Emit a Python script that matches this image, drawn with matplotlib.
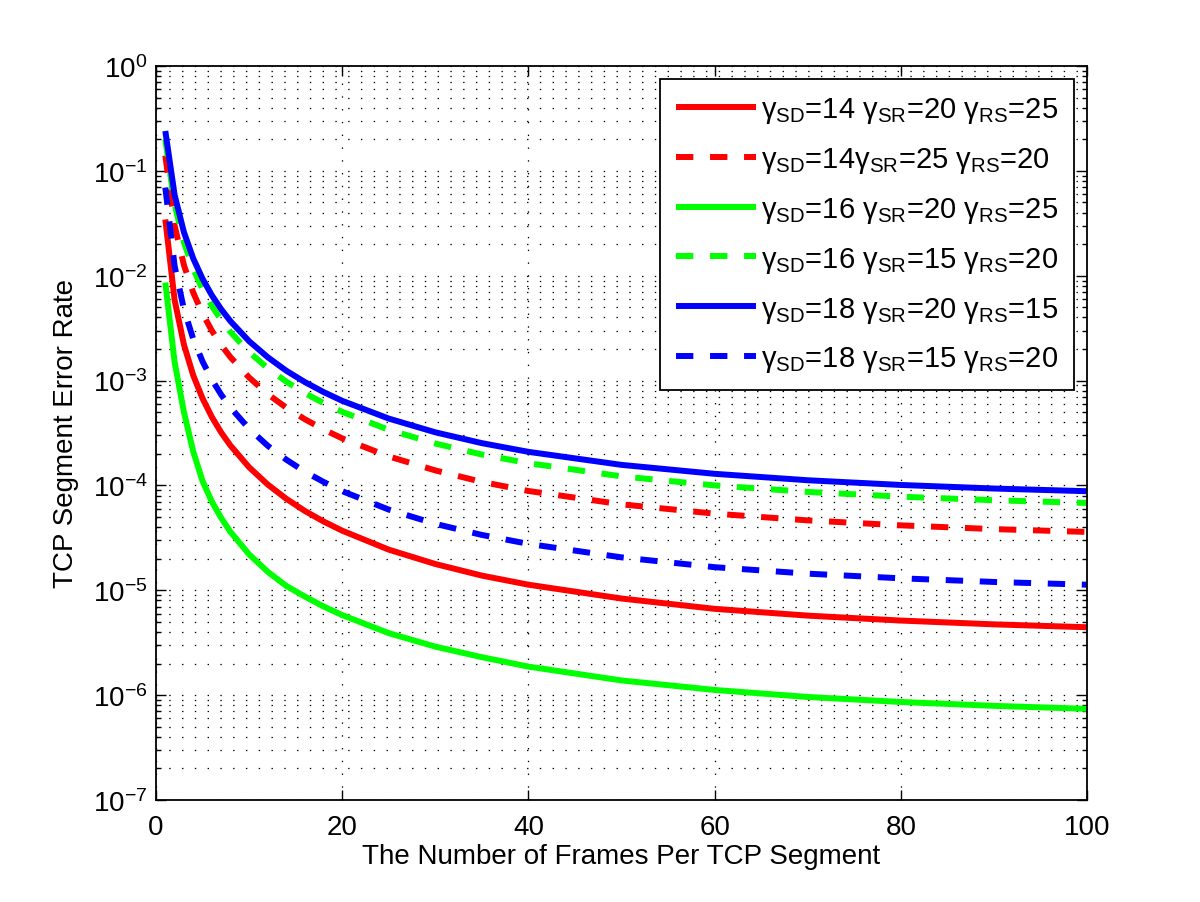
import matplotlib
matplotlib.use("Agg")
import matplotlib.pyplot as plt
from matplotlib.ticker import FixedLocator, NullFormatter, LogFormatterMathtext

plt.rcParams['font.family'] = ['Liberation Sans', 'DejaVu Sans']
plt.rcParams['mathtext.fontset'] = 'custom'
plt.rcParams['mathtext.rm'] = 'Liberation Sans'
plt.rcParams['lines.scale_dashes'] = False

# frames per TCP segment
frames = [1, 2, 3, 4, 5, 6, 7, 8, 10, 12, 14, 16, 18, 20, 25, 30, 35, 40, 50, 60, 70, 80, 90, 100]

# segment error rate
red_solid = [0.0344, 0.00585, 0.0022, 0.00112, 0.000675, 0.000449, 0.00032, 0.00024, 0.000149,
             0.000102, 7.45e-5, 5.7e-5, 4.53e-5, 3.7e-5, 2.44e-5, 1.78e-5, 1.38e-5, 1.13e-5,
             8.34e-6, 6.65e-6, 5.73e-6, 5.14e-6, 4.73e-6, 4.44e-6]
red_dash = [0.14, 0.03, 0.01262, 0.0069, 0.00435, 0.00299, 0.00218, 0.00167, 0.00107, 0.000743,
            0.000551, 0.000427, 0.000342, 0.000281, 0.000189, 0.000139, 0.000108, 8.85e-5,
            6.6e-5, 5.38e-5, 4.64e-5, 4.16e-5, 3.83e-5, 3.6e-5]
green_solid = [0.0086, 0.0015, 0.0005, 0.00021, 0.00011, 7.0e-5, 4.9e-5, 3.6e-5, 2.2e-5, 1.5e-5,
               1.1e-5, 8.7e-6, 7.0e-6, 5.8e-6, 3.9e-6, 2.9e-6, 2.3e-6, 1.87e-6, 1.38e-6, 1.12e-6,
               9.6e-7, 8.6e-7, 7.9e-7, 7.4e-7]
green_dash = [0.2, 0.04755, 0.0208, 0.01161, 0.00741, 0.00514, 0.00378, 0.0029, 0.00187, 0.00131,
              0.000976, 0.000758, 0.000609, 0.000503, 0.000339, 0.000251, 0.000197, 0.000163,
              0.000122, 0.0001, 8.67e-5, 7.81e-5, 7.22e-5, 6.8e-5]
blue_solid = [0.24, 0.0588, 0.026, 0.0146, 0.00935, 0.0065, 0.00479, 0.00368, 0.002375, 0.00167,
              0.00124, 0.000966, 0.000777, 0.000641, 0.000434, 0.000321, 0.000253, 0.000209,
              0.000157, 0.000129, 0.000112, 0.000101, 9.34e-5, 8.8e-5]
blue_dash = [0.0693, 0.01238, 0.00479, 0.00249, 0.00152, 0.00102, 0.000734, 0.000553, 0.000347,
             0.000239, 0.000176, 0.000135, 0.000108, 8.82e-5, 5.88e-5, 4.3e-5, 3.37e-5, 2.77e-5,
             2.06e-5, 1.66e-5, 1.44e-5, 1.3e-5, 1.2e-5, 1.13e-5]

labels = [
    r'γ$_{\mathregular{SD}}$=14 γ$_{\mathregular{SR}}$=20 γ$_{\mathregular{RS}}$=25',
    r'γ$_{\mathregular{SD}}$=14γ$_{\mathregular{SR}}$=25 γ$_{\mathregular{RS}}$=20',
    r'γ$_{\mathregular{SD}}$=16 γ$_{\mathregular{SR}}$=20 γ$_{\mathregular{RS}}$=25',
    r'γ$_{\mathregular{SD}}$=16 γ$_{\mathregular{SR}}$=15 γ$_{\mathregular{RS}}$=20',
    r'γ$_{\mathregular{SD}}$=18 γ$_{\mathregular{SR}}$=20 γ$_{\mathregular{RS}}$=15',
    r'γ$_{\mathregular{SD}}$=18 γ$_{\mathregular{SR}}$=15 γ$_{\mathregular{RS}}$=20',
]
series = [red_solid, red_dash, green_solid, green_dash, blue_solid, blue_dash]
colors = ['#ff0000', '#ff0000', '#00ff00', '#00ff00', '#0000ff', '#0000ff']
dashed = [False, True, False, True, False, True]

x_ticks = [0, 20, 40, 60, 80, 100]
y_decades = list(range(-7, 1))

fig = plt.figure(figsize=(12, 9.03), dpi=100)
ax = fig.add_axes([0.13, 0.113, 0.7758, 0.8128])

for ys, c, d, lab in zip(series, colors, dashed, labels):
    ls = (0, (12.5, 12)) if d else '-'
    ax.plot(frames, ys, color=c, lw=4.3, linestyle=ls, label=lab,
            solid_capstyle='butt', dash_capstyle='butt')

ax.set_yscale('log')
ax.set_xlim(0, 100)
ax.set_ylim(1e-7, 1)
ax.xaxis.set_major_locator(FixedLocator(x_ticks))
ax.yaxis.set_major_locator(FixedLocator([10.0 ** k for k in y_decades]))
ax.yaxis.set_major_formatter(LogFormatterMathtext())
ax.yaxis.set_minor_locator(FixedLocator([m * 10.0 ** k for k in y_decades[:-1] for m in range(2, 10)]))
ax.yaxis.set_minor_formatter(NullFormatter())

dot = (0, (1.0, 8.2))
ax.grid(True, which='major', axis='x', color='k', lw=0.9, linestyle=dot)
ax.grid(True, which='both', axis='y', color='k', lw=0.9, linestyle=dot)
ax.set_axisbelow(True)

ax.tick_params(which='both', direction='in', top=True, right=True, labelsize=20, width=1.0)
ax.tick_params(which='major', length=7)
ax.tick_params(which='minor', length=3.6)
ax.tick_params(axis='x', pad=10)
ax.tick_params(axis='y', pad=6)
for s in ax.spines.values():
    s.set_linewidth(1.3)

ax.set_xlabel('The Number of Frames Per TCP Segment', fontsize=20, labelpad=2)
ax.set_ylabel('TCP Segment Error Rate', fontsize=20, labelpad=10)

leg = ax.legend(loc='upper right', fontsize=21, handlelength=2.75, handletextpad=0.15,
                labelspacing=0.68, borderaxespad=0.45, fancybox=False, framealpha=1,
                edgecolor='k', borderpad=0.55)
leg.get_frame().set_linewidth(1.3)

fig.savefig('out.png', dpi=100, facecolor='white')
